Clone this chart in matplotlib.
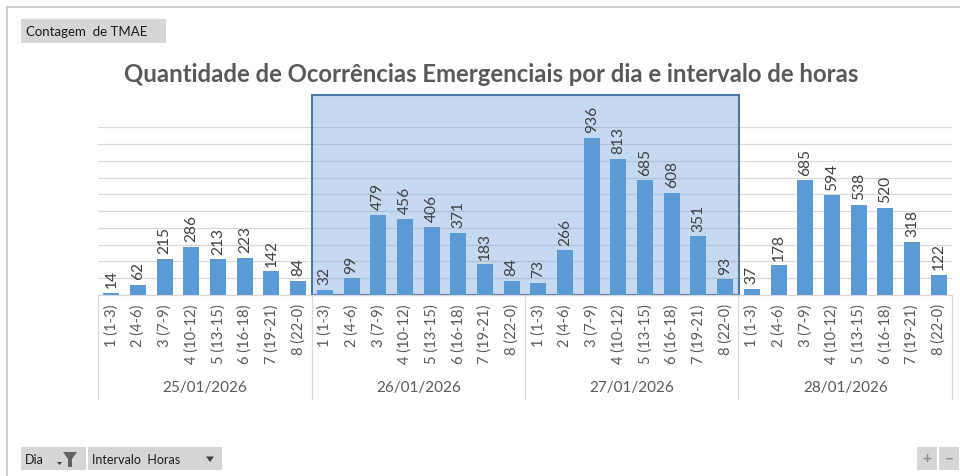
import matplotlib
matplotlib.use("Agg")
import matplotlib.pyplot as plt
from matplotlib.patches import Rectangle, Polygon
from matplotlib.lines import Line2D

plt.rcParams['font.family'] = ['Lato', 'DejaVu Sans']

days = ["25/01/2026", "26/01/2026", "27/01/2026", "28/01/2026"]
intervals = ["1 (1-3)", "2 (4-6)", "3 (7-9)", "4 (10-12)", "5 (13-15)",
             "6 (16-18)", "7 (19-21)", "8 (22-0)"]
values_25 = [14, 62, 215, 286, 213, 223, 142, 84]
values_26 = [32, 99, 479, 456, 406, 371, 183, 84]
values_27 = [73, 266, 936, 813, 685, 608, 351, 93]
values_28 = [37, 178, 685, 594, 538, 520, 318, 122]
title = "Quantidade de Ocorrências Emergenciais por dia e intervalo de horas"

W, H = 960, 477
fig = plt.figure(figsize=(W / 100, H / 100), dpi=100)
fig.patch.set_facecolor("white")

def fx(x):
    return x / W

def fy(y):
    return 1 - y / H

ax_left, ax_right, ax_base, ax_top = 98, 952, 296, 128.3
ax = fig.add_axes([fx(ax_left), fy(ax_base), (ax_right - ax_left) / W, (ax_base - ax_top) / H])

all_vals = values_25 + values_26 + values_27 + values_28
labels = intervals * 4
n = len(all_vals)
xs = list(range(n))

ax.set_xlim(-0.5, n - 0.5)
ax.set_ylim(0, 1000)
ax.set_yticks(range(0, 1001, 100))
ax.yaxis.grid(True, color="#d9d9d9", linewidth=0.9, zorder=0)
ax.set_axisbelow(True)
ax.tick_params(axis="y", length=0, labelleft=False)
for s in ["left", "right", "top"]:
    ax.spines[s].set_visible(False)
ax.spines["bottom"].set_color("#d9d9d9")
ax.spines["bottom"].set_linewidth(0.9)

# highlight box for 26/01 and 27/01
box = Rectangle((7.5, 0), 16, 1195, facecolor=(110/255, 160/255, 220/255, 0.4),
                edgecolor="#4a78a8", linewidth=1.5, zorder=1.5, clip_on=False)
ax.add_patch(box)

ax.bar(xs, all_vals, width=0.6, color="#5b9bd5", zorder=3)
for x, v in zip(xs, all_vals):
    ax.annotate(str(v), (x, v), xytext=(0, 4), textcoords="offset points",
                rotation=90, ha="center", va="bottom", fontsize=11.2,
                color="#404040", zorder=4)

ax.set_xticks(xs)
ax.set_xticklabels(labels, rotation=90, fontsize=10.6, color="#595959")
ax.tick_params(axis="x", length=0, pad=6)

# group separators
tr = ax.get_xaxis_transform()
sep_bottom = -(400 - ax_base) / (ax_base - ax_top)
for b in [-0.5, 7.5, 15.5, 23.5, 31.5]:
    ax.add_line(Line2D([b, b], [0, sep_bottom], transform=tr, color="#d9d9d9",
                       linewidth=0.9, clip_on=False))
for i, d in enumerate(days):
    ax.text(i * 8 + 3.5, -(388 - ax_base) / (ax_base - ax_top), d, transform=tr,
            ha="center", va="center", fontsize=11, color="#595959")

fig.text(fx(491), fy(75), title, ha="center", va="center", fontsize=17.2,
         fontweight="bold", color="#595959")

# frame
fig.add_artist(Line2D([fx(7), fx(7)], [fy(8), fy(477)], color="#c8c8c8", linewidth=1.2))
fig.add_artist(Line2D([fx(7), fx(960)], [fy(8), fy(8)], color="#c8c8c8", linewidth=1.2))

def button(x0, y0, x1, y1):
    fig.add_artist(Rectangle((fx(x0), fy(y1)), fx(x1 - x0), (y1 - y0) / H,
                             facecolor="#d6d6d6", edgecolor="none"))

button(21, 20, 166, 44)
fig.text(fx(26), fy(32), "Contagem  de TMAE", ha="left", va="center", fontsize=9.5, color="#1a1a1a")

button(21, 448, 86, 471)
button(88, 448, 222, 471)
fig.text(fx(25), fy(460), "Dia", ha="left", va="center", fontsize=9, color="#1a1a1a")
# funnel icon
fig.add_artist(Polygon([(fx(63), fy(453)), (fx(77), fy(453)), (fx(72), fy(460)),
                        (fx(72), fy(468)), (fx(68), fy(468)), (fx(68), fy(460))],
                       closed=True, facecolor="#606060", edgecolor="none"))
fig.add_artist(Polygon([(fx(57), fy(463)), (fx(62), fy(463)), (fx(59.5), fy(466))],
                       closed=True, facecolor="#404040", edgecolor="none"))
fig.text(fx(92), fy(460), "Intervalo  Horas", ha="left", va="center", fontsize=9, color="#1a1a1a")
fig.add_artist(Polygon([(fx(206), fy(457.5)), (fx(214), fy(457.5)), (fx(210), fy(463))],
                       closed=True, facecolor="#404040", edgecolor="none"))

button(917, 448, 937, 471)
button(939, 448, 959, 471)
fig.text(fx(927), fy(459.5), "+", ha="center", va="center", fontsize=11, color="#8a8a8a", fontweight="bold")
fig.text(fx(949), fy(459.5), "−", ha="center", va="center", fontsize=11, color="#8a8a8a", fontweight="bold")

fig.savefig("out.png", dpi=100, facecolor="white")
